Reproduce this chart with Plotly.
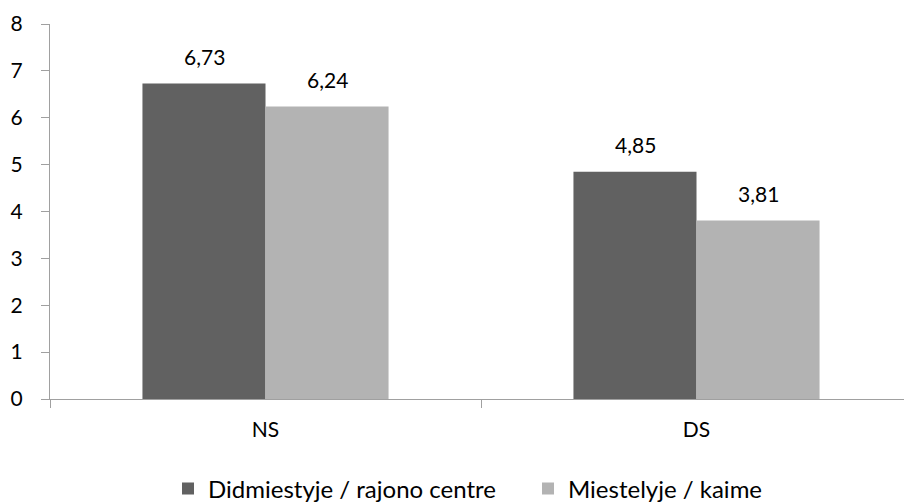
import plotly.graph_objects as go

categories = ["NS", "DS"]
series_names = ["Didmiestyje / rajono centre", "Miestelyje / kaime"]
values_city = [6.73, 4.85]
values_town = [6.24, 3.81]
colors = ["#616161", "#b3b3b3"]

FONT = "Lato, Calibri, Carlito, sans-serif"
FSIZE = 21
LEGEND_SIZE = 24
AXIS_GREY = "#a0a0a0"

fig = go.Figure()
for name, vals, col in zip(series_names, [values_city, values_town], colors):
    fig.add_trace(go.Bar(
        x=categories, y=vals, name=name,
        marker=dict(color=col, line=dict(width=0)),
    ))

# value labels above each bar, formatted with a decimal comma
bar_px = 123
for k, vals in enumerate([values_city, values_town]):
    shift = -bar_px / 2 if k == 0 else bar_px / 2
    for c, v in zip(categories, vals):
        fig.add_annotation(
            x=c, y=v, text=f"{v:.2f}".replace(".", ","),
            showarrow=False, xshift=shift, yshift=27,
            yanchor="middle", xanchor="center",
            font=dict(family=FONT, size=FSIZE, color="#000000"),
        )

fig.update_layout(
    width=904, height=502,
    margin=dict(l=50, r=0, t=24, b=103),
    paper_bgcolor="white", plot_bgcolor="white",
    barmode="group", bargap=0.429, bargroupgap=0,
    font=dict(family=FONT, size=FSIZE, color="#000000"),
    showlegend=True,
    legend=dict(
        orientation="h", xref="container", yref="container",
        x=168 / 904, xanchor="left", y=(502 - 489) / 502, yanchor="middle",
        font=dict(family=FONT, size=LEGEND_SIZE, color="#000000"),
        itemwidth=30, tracegroupgap=0, entrywidth=315, entrywidthmode="pixels",
    ),
)

fig.update_xaxes(
    type="category", range=[-0.5, -0.5 + 854 / 431],
    showline=True, linecolor=AXIS_GREY, linewidth=1,
    ticks="outside", tickson="boundaries", ticklen=8, tickcolor=AXIS_GREY,
    ticklabelstandoff=12, showgrid=False, zeroline=False,
)
fig.update_yaxes(
    range=[0, 8], dtick=1, tick0=0,
    showline=True, linecolor=AXIS_GREY, linewidth=1,
    ticks="outside", ticklen=8, tickcolor=AXIS_GREY,
    ticklabelstandoff=14, showgrid=False, zeroline=False,
)

fig.write_html("out.html")
